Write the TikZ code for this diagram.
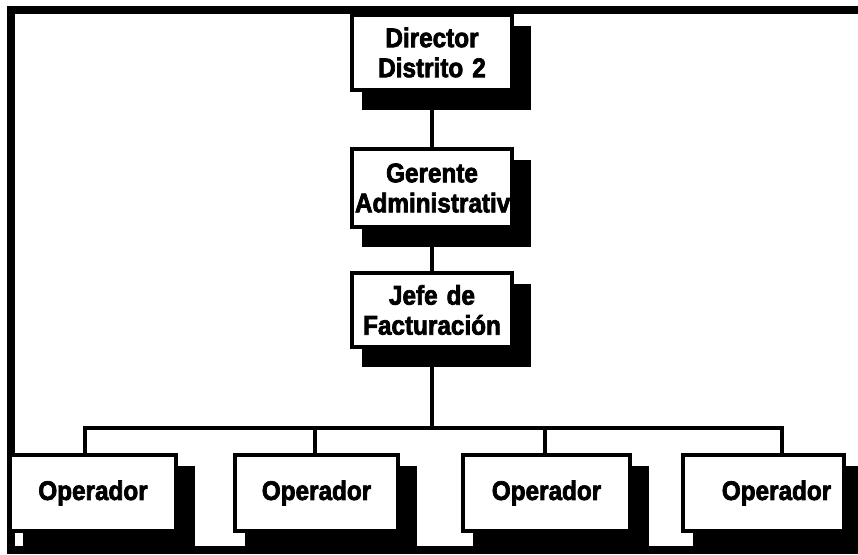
\documentclass[tikz,border=0pt]{standalone}
\usepackage{fontspec}
\setmainfont{Liberation Sans}[BoldFeatures={FakeBold=2.6,FakeStretch=0.9}]
\pgfdeclarelayer{bg}
\pgfsetlayers{bg,main}
\begin{document}
\begin{tikzpicture}[x=1pt,y=-1pt,
  box/.style={draw=black, line width=4pt, fill=white, rectangle, inner xsep=3pt, inner ysep=0pt,
    font=\bfseries\fontsize{27}{30}\selectfont},
  topbox/.style={box, text width=154pt, align=center},
  opbox/.style={box, minimum height=76pt},
  wire/.style={line width=4pt, line join=miter}]
\useasboundingbox (0,0) rectangle (858,554);
\clip (0,0) rectangle (858,554);

% boxes
\node[topbox, minimum height=75pt] (d) at (432,52.5) {Director\\Distrito 2};
\node[topbox, minimum height=78pt] (g) at (432,188) {Gerente\\Administrativo};
\node[topbox, minimum height=74pt] (j) at (432,310) {Jefe de\\Facturación};
\node[opbox, minimum width=166pt] (o1) at (93,493) {Operador\hspace{10pt}};
\node[opbox, minimum width=163pt] (o2) at (316.5,493) {Operador};
\node[opbox, minimum width=167pt] (o3) at (546.5,493) {Operador};
\node[opbox, minimum width=161pt] (o4) at (763.5,493) {\hspace{26pt}Operador};

% frame and shadows
\begin{pgfonlayer}{bg}
  \draw[line width=8pt] (11,10) rectangle (880,550);
  \foreach \n in {d,g,j,o2,o3,o4}
    \fill[black] ([shift={(12,13)}]\n.north west) rectangle ([shift={(17,18)}]\n.south east);
  \fill[black] ([shift={(15,13)}]o1.north west) rectangle ([shift={(17,18)}]o1.south east);
\end{pgfonlayer}

% connectors
\coordinate (bus) at (432,428);
\coordinate (b1) at (85,428);
\coordinate (b2) at (315,428);
\coordinate (b3) at (545,428);
\coordinate (b4) at (782,428);
\draw[wire] (d.south) -- (g.north);
\draw[wire] (g.south) -- (j.south |- g.south) -- (j.north);
\draw[wire] (j.south) -- (bus);
\draw[wire] (b1 |- o1.north) -- (b1) -- (b4) -- (b4 |- o4.north);
\draw[wire] (b2) -- (b2 |- o2.north);
\draw[wire] (b3) -- (b3 |- o3.north);
\end{tikzpicture}
\end{document}
